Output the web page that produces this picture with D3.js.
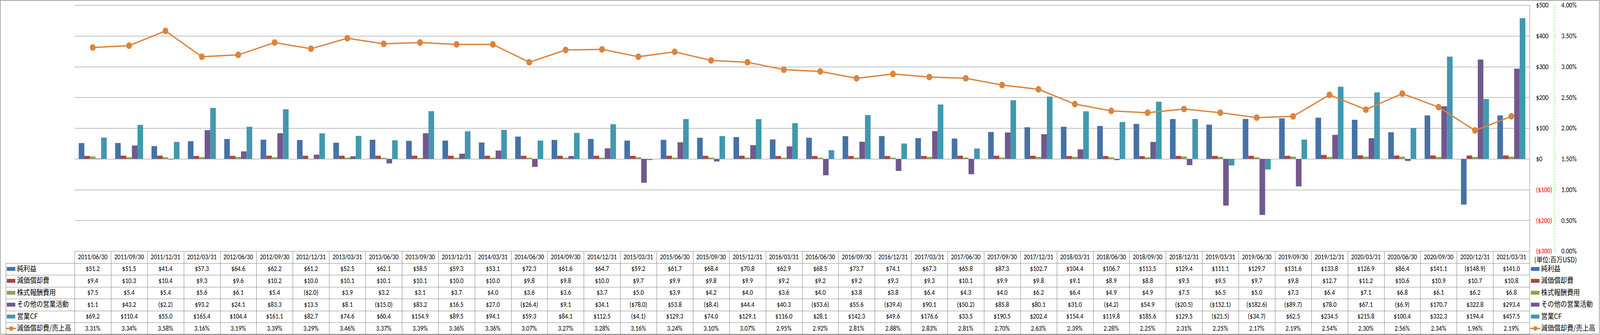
<!DOCTYPE html>
<html>
<head>
<meta charset="utf-8" />
<title>CF chart</title>
<script src="https://cdn.jsdelivr.net/npm/d3@7/dist/d3.min.js"></script>
<style>
  html, body { margin:0; padding:0; background:#fff; overflow:hidden; }
  #CHART { display:block; width:100vw; height:100vh; }
  text { font-family: Carlito, "Liberation Sans", "Noto Sans CJK JP", sans-serif; }
  .jp { font-family: "Noto Sans CJK JP", sans-serif; }
</style>
</head>
<body>
<svg id="CHART" viewBox="0 0 4701 858" preserveAspectRatio="none"></svg>
<script>
// ---- data ----
var dates = ["2011/06/30","2011/09/30","2011/12/31","2012/03/31","2012/06/30","2012/09/30","2012/12/31","2013/03/31",
  "2013/06/30","2013/09/30","2013/12/31","2014/03/31","2014/06/30","2014/09/30","2014/12/31","2015/03/31",
  "2015/06/30","2015/09/30","2015/12/31","2016/03/31","2016/06/30","2016/09/30","2016/12/31","2017/03/31",
  "2017/06/30","2017/09/30","2017/12/31","2018/03/31","2018/06/30","2018/09/30","2018/12/31","2019/03/31",
  "2019/06/30","2019/09/30","2019/12/31","2020/03/31","2020/06/30","2020/09/30","2020/12/31","2021/03/31"];

var netIncome = [51.2,51.5,41.4,57.3,64.6,62.2,61.2,52.5,62.1,58.5,59.3,53.1,72.3,61.6,64.7,59.2,61.7,68.4,70.8,62.9,
  68.5,73.7,74.1,67.3,65.8,87.3,102.7,104.4,106.7,113.5,129.4,111.1,129.7,131.6,133.8,126.9,86.4,141.1,-148.9,141.0];
var depreciation = [9.4,10.3,10.4,9.3,9.6,10.2,10.0,10.1,10.1,10.1,10.0,10.0,9.8,9.8,10.0,9.7,9.9,9.8,9.9,9.2,
  9.2,9.2,9.3,9.3,10.1,9.9,9.8,9.1,8.9,8.8,9.5,9.5,9.7,9.8,12.7,11.2,10.6,10.9,10.7,10.8];
var stockComp = [7.5,5.4,5.4,5.6,6.1,5.4,-2.0,3.9,3.2,3.1,3.7,4.0,3.6,3.6,3.7,5.0,3.9,4.2,4.0,3.6,
  4.0,3.8,3.8,6.4,4.3,4.0,6.2,6.4,4.9,4.9,7.5,6.5,5.0,7.3,6.4,7.1,6.8,6.1,6.2,6.8];
var otherOps = [1.1,43.2,-2.2,93.2,24.1,83.3,13.5,8.1,-15.0,83.2,16.5,27.0,-26.4,9.1,34.1,-78.0,53.8,-8.4,44.4,40.3,
  -53.6,55.6,-39.4,90.1,-50.2,85.8,80.1,31.0,-4.2,54.9,-20.5,-152.1,-182.6,-89.7,78.0,67.1,-6.9,170.7,322.8,293.4];
var operatingCF = [69.2,110.4,55.0,165.4,104.4,161.1,82.7,74.6,60.4,154.9,89.5,94.1,59.3,84.1,112.5,-4.1,129.3,74.0,129.1,116.0,
  28.1,142.3,49.6,176.6,33.5,190.5,202.4,154.4,119.8,185.6,129.5,-21.5,-34.7,62.5,234.5,215.8,100.4,332.3,194.4,457.5];
var depRatio = [3.31,3.34,3.58,3.16,3.19,3.39,3.29,3.46,3.37,3.39,3.36,3.36,3.07,3.27,3.28,3.16,3.24,3.10,3.07,2.95,
  2.92,2.81,2.88,2.83,2.81,2.70,2.63,2.39,2.28,2.25,2.31,2.25,2.17,2.19,2.54,2.30,2.56,2.34,1.96,2.19];

var seriesNames = ["純利益","減価償却費","株式報酬費用","その他の営業活動","営業CF"];
var seriesValues = [netIncome, depreciation, stockComp, otherOps, operatingCF];
var lineName = "減価償却費/売上高";
var unitLabel = "(単位:百万USD)";
var usdTicks = [-300,-200,-100,0,100,200,300,400,500];
var pctTicks = [0,0.5,1,1.5,2,2.5,3,3.5,4];

var colors = ["#4572A7","#AA4643","#89A54E","#71588F","#4198AF"];
var lineColor = "#DB843D";

// ---- layout ----
var W = 4701, H = 858;
var L = 219, R = 4494, T = 13, B = 643;
var rowH = 30.5, tableLeft = 17;
var gridC = "#868686";
var fs = 18;

var svg = d3.select("#CHART");

svg.append("rect").attr("x",1).attr("y",1).attr("width",W-3).attr("height",H-3)
  .attr("fill","#fff").attr("stroke",gridC).attr("stroke-width",1.5);

var x = d3.scaleBand().domain(dates).range([L, R]).padding(0);
var bw = x.bandwidth();
var gap = bw * 1.5 / 6.5;
var x1 = d3.scaleBand().domain(d3.range(5)).range([gap/2, bw - gap/2]).padding(0);
var y = d3.scaleLinear().domain([-300, 500]).range([B, T]);
var y2 = d3.scaleLinear().domain([0, 4]).range([B, T]);

// gridlines
svg.append("g").selectAll("line").data(usdTicks.filter(function(d){ return d > -300; }))
  .join("line")
  .attr("x1", L).attr("x2", R)
  .attr("y1", function(d){ return Math.round(y(d)) + 0.5; })
  .attr("y2", function(d){ return Math.round(y(d)) + 0.5; })
  .attr("stroke", gridC).attr("stroke-width", 1.2);

// bars
var flat = [];
dates.forEach(function(d, i){
  seriesValues.forEach(function(s, k){ flat.push({date:d, k:k, v:s[i]}); });
});
svg.append("g").selectAll("rect").data(flat).join("rect")
  .attr("x", function(d){ return x(d.date) + x1(d.k); })
  .attr("width", x1.bandwidth())
  .attr("y", function(d){ return Math.min(y(d.v), y(0)); })
  .attr("height", function(d){ return Math.abs(y(d.v) - y(0)); })
  .attr("fill", function(d){ return colors[d.k]; });

// ratio line
var line = d3.line()
  .x(function(d, i){ return x(dates[i]) + bw/2; })
  .y(function(d){ return y2(d); });
svg.append("path").datum(depRatio).attr("d", line)
  .attr("fill","none").attr("stroke",lineColor).attr("stroke-width",3.5);
svg.append("g").selectAll("circle").data(depRatio).join("circle")
  .attr("cx", function(d, i){ return x(dates[i]) + bw/2; })
  .attr("cy", function(d){ return y2(d); })
  .attr("r", 8.5).attr("fill", lineColor);

// right vertical border of plot/table
svg.append("line").attr("x1",R+0.5).attr("x2",R+0.5).attr("y1",T).attr("y2",B + rowH*7)
  .attr("stroke",gridC).attr("stroke-width",1.2);

// USD axis
var fmtUsd = function(v){ return v < 0 ? "($" + (-v) + ")" : "$" + v; };
var axUsd = svg.append("g").attr("transform","translate(4513,0)")
  .call(d3.axisRight(y).tickValues(usdTicks).tickSize(0).tickPadding(0).tickFormat(fmtUsd));
axUsd.select(".domain").remove();
axUsd.selectAll("text").attr("font-size",fs).attr("font-family",null)
  .attr("fill", function(d){ return d < 0 ? "#FF0000" : "#000"; });

// percent axis (green dashed)
var axPct = svg.append("g").attr("transform","translate(4567.5,0)")
  .call(d3.axisRight(y2).tickValues(pctTicks).tickSize(4).tickSizeOuter(0).tickPadding(16)
    .tickFormat(function(d){ return d.toFixed(2) + "%"; }));
axPct.select(".domain").attr("stroke","#00FF00").attr("stroke-dasharray","4,3");
axPct.selectAll(".tick line").attr("stroke","#00FF00");
axPct.selectAll("text").attr("font-size",fs).attr("font-family",null).attr("fill","#000");

// ---- data table ----
var fmtCell = function(v){ return v < 0 ? "($" + (-v).toFixed(1) + ")" : "$" + v.toFixed(1); };
var tbl = svg.append("g");
var rows = seriesValues.map(function(s){ return s.map(fmtCell); })
  .concat([depRatio.map(function(v){ return v.toFixed(2) + "%"; })]);
var labels = seriesNames.concat([lineName]);

// horizontal borders
var hLines = d3.range(8);
tbl.selectAll("line.h").data(hLines).join("line").attr("class","h")
  .attr("x1", function(i){ return i === 0 ? L : tableLeft; }).attr("x2", R)
  .attr("y1", function(i){ return Math.round(B + i*rowH) + 0.5; })
  .attr("y2", function(i){ return Math.round(B + i*rowH) + 0.5; })
  .attr("stroke", gridC).attr("stroke-width", 1.2);
// vertical borders
tbl.selectAll("line.v").data(dates).join("line").attr("class","v")
  .attr("x1", function(d){ return Math.round(x(d)) + 0.5; })
  .attr("x2", function(d){ return Math.round(x(d)) + 0.5; })
  .attr("y1", B).attr("y2", B + 7*rowH)
  .attr("stroke", gridC).attr("stroke-width", 1.2);
tbl.append("line").attr("x1",tableLeft+0.5).attr("x2",tableLeft+0.5)
  .attr("y1",B+rowH).attr("y2",B+7*rowH).attr("stroke",gridC).attr("stroke-width",1.2);

// header
tbl.selectAll("text.hd").data(dates).join("text").attr("class","hd")
  .attr("x", function(d){ return x(d) + bw/2; })
  .attr("y", B + rowH/2 + 1)
  .attr("text-anchor","middle").attr("dominant-baseline","middle")
  .attr("font-size",fs).text(function(d){ return d; });

// cells
rows.forEach(function(r, ri){
  tbl.append("g").selectAll("text").data(r).join("text")
    .attr("x", function(d, i){ return x(dates[i]) + bw/2; })
    .attr("y", B + rowH*(ri+1) + rowH/2 + 1)
    .attr("text-anchor","middle").attr("dominant-baseline","middle")
    .attr("font-size",fs).text(function(d){ return d; });
});

// legend keys + labels (table and right side)
function legendKey(g, k, x0, cy){
  if (k < 5) {
    g.append("rect").attr("x", x0).attr("y", cy - 5).attr("width", 25).attr("height", 10).attr("fill", colors[k]);
  } else {
    g.append("line").attr("x1", x0 - 2).attr("x2", x0 + 28).attr("y1", cy).attr("y2", cy)
      .attr("stroke", lineColor).attr("stroke-width", 3.5);
    g.append("circle").attr("cx", x0 + 13).attr("cy", cy).attr("r", 6).attr("fill", lineColor);
  }
}
labels.forEach(function(lb, k){
  var cy = B + rowH*(k+1) + rowH/2;
  legendKey(tbl, k, 20, cy);
  tbl.append("text").attr("class","jp").attr("x", 50).attr("y", cy + 1)
    .attr("dominant-baseline","middle").attr("font-size",19).text(lb);
  legendKey(svg, k, 4498, cy);
  svg.append("text").attr("class","jp").attr("x", 4528).attr("y", cy + 1)
    .attr("dominant-baseline","middle").attr("font-size",19).text(lb);
});
svg.append("text").attr("class","jp").attr("x", 4508).attr("y", 667)
  .attr("dominant-baseline","middle").attr("font-size",18).text(unitLabel);
</script>
</body>
</html>
